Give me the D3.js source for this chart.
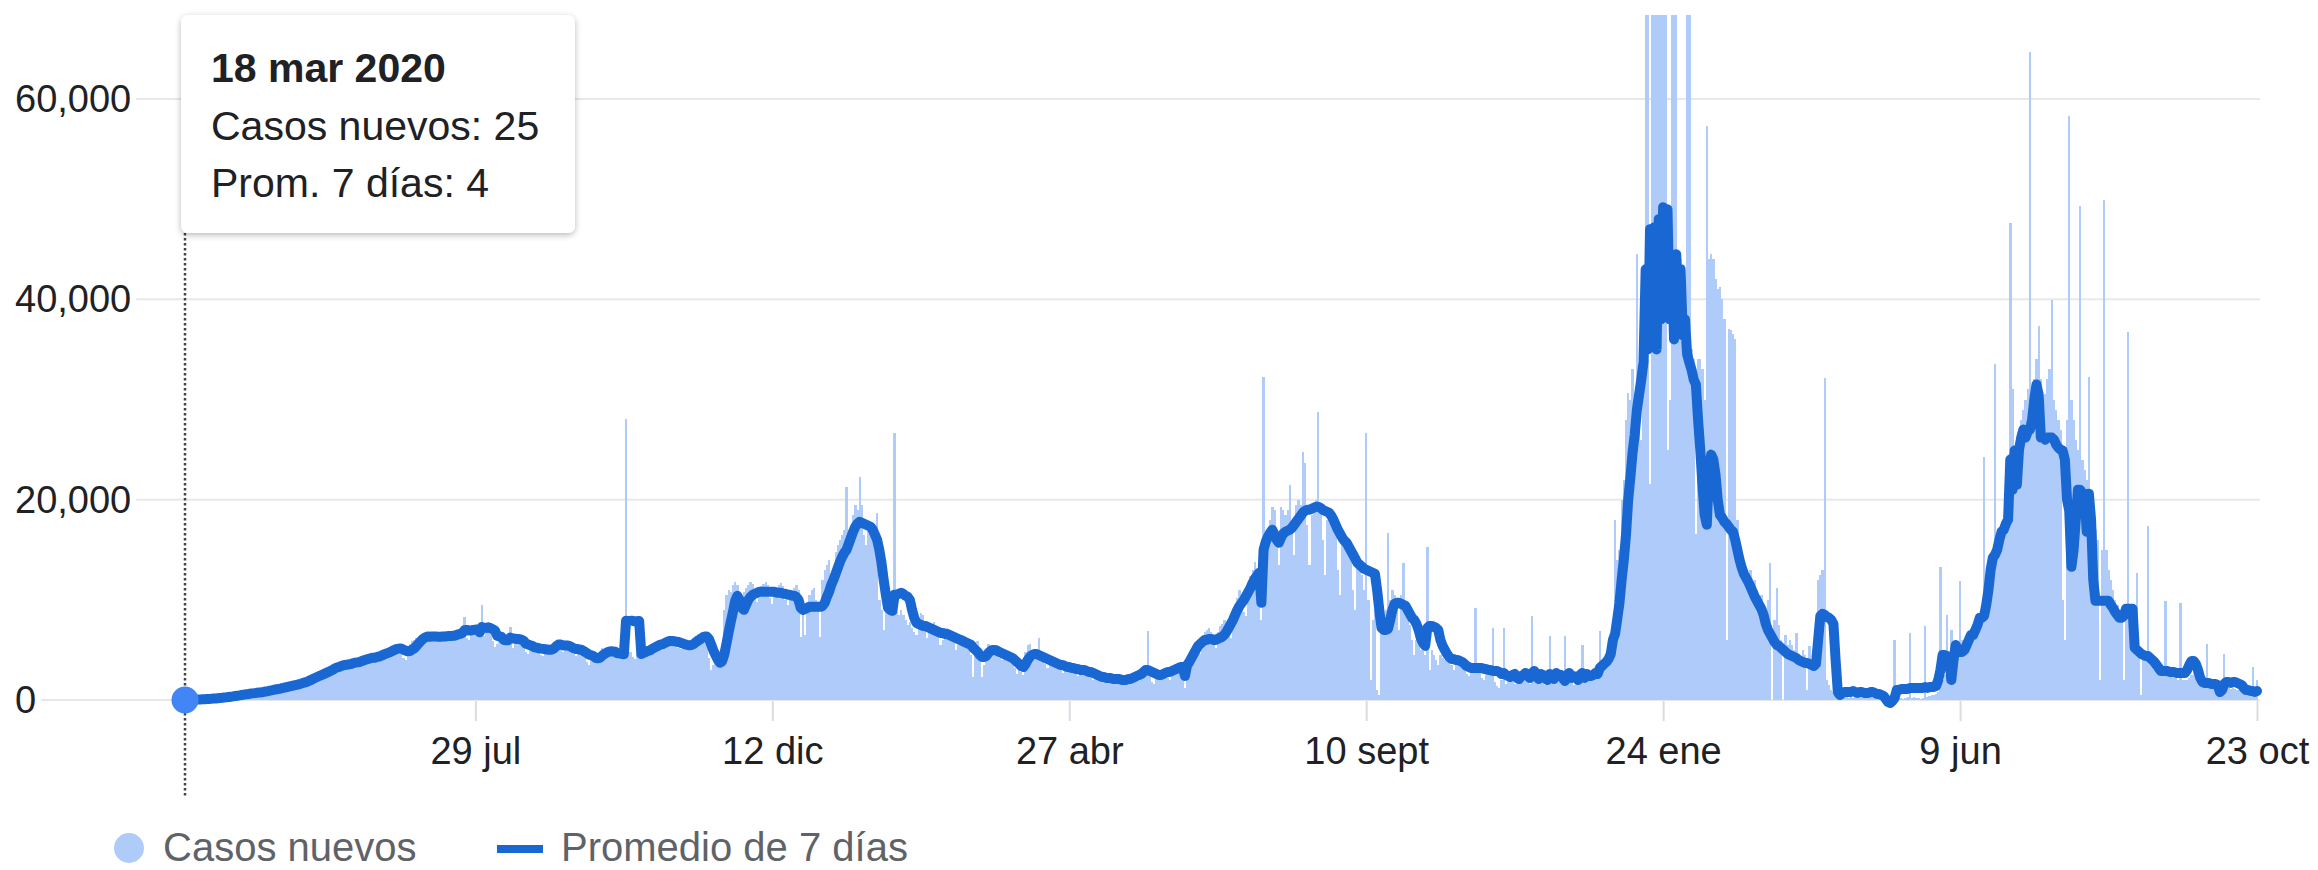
<!DOCTYPE html>
<html><head><meta charset="utf-8">
<script src="https://cdn.jsdelivr.net/npm/d3@7"></script>
<style>
html,body{margin:0;padding:0;background:#fff;}
svg{display:block;font-family:Arial,"Liberation Sans",Helvetica,sans-serif;}
</style>
</head><body>
<svg id="chart" width="2318" height="870"></svg>
<script>
// ---------- DATA ----------
const fechaInicio = new Date(2020, 2, 18);
const fechaFin = new Date(2022, 9, 23);
const mesesCortos = ["ene","feb","mar","abr","may","jun","jul","ago","sept","oct","nov","dic"];
const xTickFechas = [new Date(2020,6,29), new Date(2020,11,12), new Date(2021,3,27), new Date(2021,8,10), new Date(2022,0,24), new Date(2022,5,9), new Date(2022,9,23)];
const xTickEtiquetas = ["29 jul","12 dic","27 abr","10 sept","24 ene","9 jun","23 oct"];
const yTicks = [0, 20000, 40000, 60000];
const serieNombres = ["Casos nuevos", "Promedio de 7 días"];
const unidad = 100; // values below are in hundreds of cases, one per day from 18 mar 2020

// daily new cases (hundreds), one row per week
const casosNuevos = [
0.25,0.3,0.4,0.5,0.6,0.7,0.8,
0.9,1,1.2,1.3,1.5,1.7,2,
2.2,2.5,2.8,3,3.2,3.5,3.8,
4,4.5,4.8,5,5.5,6,6.2,
6.5,6.8,7,7.5,7.8,8,8.5,
9,9.5,10,10.5,11,11.2,11.5,
12,12.5,13,13.5,14,14.5,15,
15.5,16,17,17.5,18,19,20,
22,23,24,25,26,26,27,
28,29,30,31,32,33,34,
33,35,36,35,34,37,38,
39,40,38,37,41,42,43,
44,45,42,40,46,47,48,
50,51,48,46,53,54,55,
56,52,42,40,48,56,59,
60,62,60,58,64,66,68,
66,64,60,59,63,65,67,
68,66,62,59,65,68,70,
71,72,83,62,60,69,73,
74,72,65,95,64,68,70,
66,59,53,56,60,64,63,
62,60,73,52,58,61,60,
58,54,48,46,52,55,56,
53,50,45,44,50,52,53,
55,58,59,56,50,48,54,
56,55,52,46,44,49,51,
49,46,38,35,40,43,44,
46,48,52,45,49,50,51,
48,46,42,44,46,47,281,
45,48,43,41,46,49,50,
52,54,50,48,55,57,58,
60,59,55,56,61,62,60,
58,56,52,51,56,57,56,
55,57,59,64,66,65,68,
62,56,42,30,35,40,42,
36,45,90,105,110,108,115,
118,115,102,94,108,112,115,
118,116,104,98,110,114,116,
118,115,102,96,110,113,115,
117,114,100,95,106,110,112,
115,110,63,90,65,98,105,
110,112,100,96,63,120,130,
135,140,125,128,148,155,160,
165,170,213,165,155,185,195,
190,223,195,165,155,170,175,
165,150,187,100,90,70,95,
90,85,95,267,88,85,90,
85,80,75,78,72,68,65,
78,87,85,70,62,75,76,
78,74,65,55,60,70,72,
70,66,58,50,55,64,65,
64,60,52,45,23,58,59,
50,23,35,44,56,54,52,
50,49,42,40,46,47,45,
42,40,32,26,30,28,25,
48,55,56,47,40,50,62,
48,45,36,32,38,40,39,
38,36,30,27,33,35,34,
35,33,26,24,30,32,31,
30,29,23,20,26,28,27,
26,25,20,18,23,25,24,
24,23,18,16,21,23,22,
26,25,20,19,26,28,30,
69,26,18,16,24,26,28,
30,28,22,20,29,32,34,
36,34,26,12,38,42,45,
54,56,48,46,62,68,70,
72,68,58,52,68,74,76,
80,78,66,62,86,96,102,
110,106,88,84,116,124,130,
138,130,110,80,322,150,160,
180,193,190,165,135,193,190,
185,190,215,170,145,195,200,
195,248,237,175,135,185,195,
200,288,195,160,125,180,190,
180,175,165,130,105,155,160,
155,150,140,110,90,135,138,
125,110,267,100,20,80,90,
10,5,100,80,90,167,100,
110,105,90,70,105,137,95,
80,75,60,45,60,55,50,
50,45,153,30,50,45,40,
35,45,42,40,45,42,35,
30,38,40,38,36,34,26,
24,30,31,92,30,28,22,
20,26,27,26,72,18,14,
12,20,72,16,24,22,18,
16,23,25,24,25,23,18,
16,84,24,23,24,22,18,
15,24,64,25,24,22,18,
16,24,64,24,23,18,15,
24,25,22,55,18,24,20,
23,28,30,32,69,35,36,
38,45,55,70,180,140,150,
200,220,280,306,300,330,290,
445,300,260,380,720,720,216,
760,740,800,780,790,790,810,
250,300,760,780,750,430,440,
420,380,720,740,350,340,166,
340,340,330,300,573,440,445,
440,420,410,412,400,380,60,
370,369,365,360,180,150,130,
120,125,110,130,115,120,110,
100,105,95,90,100,137,0,
80,112,75,60,0,65,55,
60,55,50,67,45,40,50,
45,10,54,40,35,30,120,
125,130,321,20,15,10,8,
5,3,3,4,3,3,2,
3,2,3,2,3,2,2,
3,2,3,2,2,3,2,
2,2,1,0,1,2,60,
2,3,2,1,2,3,67,
2,3,2,2,1,2,74,
3,4,5,5,6,8,133,
20,25,85,30,70,40,45,
50,119,60,55,50,60,65,
70,75,80,85,90,243,100,
110,120,130,335,160,165,170,
180,190,200,476,310,240,250,
270,280,290,300,310,647,300,
320,340,373,320,300,305,320,
330,399,300,290,280,270,100,
60,280,583,300,280,260,250,
493,240,230,220,322,200,180,
170,160,20,150,499,150,130,
120,110,100,95,90,85,20,
90,367,80,60,50,127,50,
5,45,40,174,38,35,30,
30,28,26,25,99,25,24,
24,22,22,20,97,20,20,
20,22,25,30,25,20,15,
15,14,56,14,13,12,12,
12,10,8,46,12,12,11,
12,11,10,10,15,10,9,
8,9,33,8,20
];

// 7-day average (hundreds), one row per week
const promedio7Dias = [
0.04,0.08,0.14,0.21,0.29,0.39,0.51,
0.6,0.7,0.8,1,1.1,1.2,1.4,
1.6,1.8,2,2.2,2.5,2.7,3,
3.3,3.6,4,4.3,4.6,5,5.4,
5.7,6,6.4,6.6,6.9,7.2,7.4,
7.7,8,8.5,8.9,9.4,9.8,10.3,
10.7,11.1,11.5,12,12.5,13,13.5,
14,14.5,15,15.6,16.2,16.9,17.6,
18.3,19.3,20.3,21.4,22.4,23.4,24.4,
25.3,26.3,27.3,28.3,29.4,30.6,31.9,
32.6,33.4,34.3,34.9,35.1,35.6,35.8,
36.7,37.3,37.6,37.9,38.9,39.7,40.4,
41,41.7,42.3,42.3,43,43.4,44.3,
45.3,46.2,47,47.9,49,50,51,
51.3,51.4,50.3,49.4,48.6,48.9,50.4,
51.6,53.9,56.4,58.9,61,62.4,63.4,
63.1,63.4,63.3,63.4,63.2,63.1,63.4,
63.4,63.7,64,64,64.1,64.6,65.4,
65.9,66.9,69.6,70,69.3,69.4,70,
70.3,70.3,67.6,72.7,72.1,72,72.6,
71.7,70.7,69.3,64.1,63.6,63,60.1,
59.6,59.6,62.4,61.4,61.3,60.9,60.9,
60.3,59.4,56.4,55.6,54.7,54.1,52.7,
52.3,51.7,51.3,51,50.7,50.4,50.1,
50.4,51.6,53.6,55.3,55.3,54.6,54.3,
54.4,54,52.9,51.6,50.9,50.9,50.4,
49.6,48.3,47,45.4,44.7,44,42.1,
41.7,42.1,44.1,45.9,47.1,48.1,48.7,
48.4,48.1,46.7,46.6,46.1,45.6,79.1,
78.7,79,79.1,78.6,78.6,78.9,46,
47,47.9,48.9,49.6,51.1,52.3,53.4,
54.6,55.3,56,57.1,58.1,58.9,59,
58.7,58.3,57.9,57.1,56.4,55.7,55.1,
54.7,54.9,55.9,57.7,59.4,60.6,62.3,
63.3,63.3,60.9,55.3,49.4,44.7,40.4,
37.3,38.6,45.4,56.3,67.9,78.3,88.4,
99,104,100,92,90,95,100,
103,105,106,107,108,108,108,
108,108,108,108,108,107,107,
107,106,106,105,105,104,104,
103,100,92,90,91,92,93,
93,93,93,93,93,94,97,
103,108,115,120,126,132,138,
143,147,150,156,162,168,173,
176,178,177,176,175,174,173,
170,165,160,150,137,120,105,
92,90,89,105,105,106,107,
106,104,103,100,90,82,77,
76,75,74,74,73,72,71,
70,69,68,67,67,66,66,
65,64,63,62,61,60,59,
58,57,56,55,52,50,48,
45,43,43,44,47,49,50,
50,49,48,47,46,45,44,
43,42,40,38,36,34,33,
36,40,43,45,46,46,45,
44,43,42,41,40,39,38,
37,36,35,35,34,33,33,
32,32,31,31,30,30,30,
29,28,28,27,26,25,24,
23,23,22,22,22,21,21,
21,21,20,20,20,21,21,
22,23,24,25,26,28,30,
30,29,28,27,26,25,25,
26,27,28,28,29,30,31,
32,33,33,24,35,38,42,
46,50,54,56,58,60,60,
61,61,60,60,61,62,63,
65,68,72,76,80,85,90,
94,97,100,104,108,112,117,
121,124,127,97,150,158,163,
167,170,165,160,157,162,166,
168,169,170,172,175,178,181,
184,187,189,190,190,191,192,
193,193,192,190,189,188,187,
184,180,175,170,166,162,159,
157,153,149,145,141,137,135,
133,131,130,129,128,127,126,
110,90,72,70,70,71,80,
90,96,97,97,96,95,94,
90,86,82,80,76,70,62,
57,54,72,74,74,73,72,
70,60,54,50,46,43,41,
41,40,40,39,38,36,34,
33,32,32,32,32,32,32,
31,31,30,30,29,29,29,
28,26,27,25,24,23,25,
26,22,21,24,25,27,24,
22,27,29,24,21,26,25,
22,20,26,23,21,27,24,
25,22,19,25,27,22,24,
23,20,25,27,22,26,24,
24,25,27,26,32,34,36,
38,41,46,60,66,81,97,
120,140,165,200,222,247,265,
290,305,320,337,430,350,470,
360,472,350,480,380,492,400,
490,380,433,360,445,373,430,
364,380,345,337,330,320,315,
280,250,215,185,175,230,245,
240,225,200,185,182,178,176,
173,170,168,160,150,140,132,
126,122,118,113,108,103,99,
95,91,85,76,70,66,62,
58,55,54,52,50,48,46,
45,44,43,42,40,39,38,
37,37,36,35,34,36,60,
84,86,85,83,82,80,76,
40,8,5,7,8,8,8,
8,9,8,7,8,8,7,
7,7,8,8,7,6,6,
5,4,1,-2,-3,-1,2,
10,10,11,11,11,11,12,
12,12,12,12,12,12,13,
12,13,13,13,14,20,30,
45,45,44,42,20,40,55,
50,48,48,50,55,60,65,
65,70,75,82,82,84,95,
110,130,142,145,150,160,168,
170,176,180,240,210,249,215,
250,262,270,262,268,270,280,
300,315,305,262,262,260,262,
262,262,260,255,252,250,249,
240,200,189,133,150,180,210,
210,206,206,168,206,180,120,
99,99,99,99,99,99,99,
95,92,88,85,82,82,84,
91,91,91,91,52,50,48,
46,45,44,44,42,40,38,
35,32,29,29,29,29,28,
28,28,27,27,27,27,27,
30,35,39,39,36,30,22,
18,17,17,17,16,16,16,
15,8,10,16,18,18,17,
18,18,17,16,15,12,10,
10,9,9,8,9
];

// ---------- CHART ----------
const W = 2318, H = 870;
const svg = d3.select("#chart");
svg.append("rect").attr("width", W).attr("height", H).attr("fill", "#fff");

const x = d3.scaleTime().domain([fechaInicio, fechaFin]).range([185, 2257]);
const y = d3.scaleLinear().domain([0, 60000]).range([700, 99]);
const plotRight = 2260, plotTop = 15;

const dias = casosNuevos.map((v, i) => ({
  fecha: d3.timeDay.offset(fechaInicio, i),
  casos: v * unidad,
  prom: (promedio7Dias[i] ?? 0) * unidad
}));

const defs = svg.append("defs");
defs.append("clipPath").attr("id", "clip")
  .append("rect").attr("x", 0).attr("y", plotTop).attr("width", W).attr("height", 720 - plotTop);
const f = defs.append("filter").attr("id", "sombra")
  .attr("x", "-10%").attr("y", "-10%").attr("width", "120%").attr("height", "130%");
f.append("feDropShadow").attr("dx", 0).attr("dy", 2).attr("stdDeviation", 3)
  .attr("flood-color", "#000").attr("flood-opacity", 0.28);

const fontAxis = 38;
// y gridlines + labels
const gGrid = svg.append("g");
yTicks.forEach(t => {
  const txt = gGrid.append("text")
    .attr("x", 15).attr("y", y(t) + 13)
    .attr("font-size", fontAxis).attr("fill", "#202124")
    .text(d3.format(",")(t));
  const w = txt.node().getComputedTextLength();
  gGrid.append("line")
    .attr("x1", 15 + w + 5).attr("x2", plotRight)
    .attr("y1", y(t)).attr("y2", y(t))
    .attr("stroke", "#e8e8e8").attr("stroke-width", 2);
});

// bars
const bw = x(d3.timeDay.offset(fechaInicio, 1)) - x(fechaInicio);
svg.append("g").attr("clip-path", "url(#clip)")
  .attr("shape-rendering", "crispEdges")
  .selectAll("rect").data(dias).join("rect")
  .attr("x", d => x(d.fecha) - bw / 2)
  .attr("width", bw + 0.15)
  .attr("y", d => y(Math.max(0, d.casos)))
  .attr("height", d => Math.max(0, y(0) - y(Math.max(0, d.casos))))
  .attr("fill", "#aecbfa");

// x axis ticks
const xAxis = d3.axisBottom(x).tickValues(xTickFechas)
  .tickFormat((d, i) => xTickEtiquetas[i]).tickSize(20).tickPadding(16);
const gx = svg.append("g").attr("transform", "translate(0,701)").call(xAxis);
gx.select(".domain").remove();
gx.selectAll(".tick line").attr("stroke", "#dadce0").attr("stroke-width", 2);
gx.selectAll(".tick text").attr("font-size", fontAxis).attr("fill", "#202124")
  .attr("font-family", "Arial, 'Liberation Sans', Helvetica, sans-serif");

// 7-day average line
const linea = d3.line().x(d => x(d.fecha)).y(d => y(d.prom));
svg.append("path").datum(dias)
  .attr("d", linea).attr("fill", "none")
  .attr("stroke", "#1967d2").attr("stroke-width", 10)
  .attr("stroke-linejoin", "round").attr("stroke-linecap", "round");

// hover indicator
const d0 = dias[0];
svg.append("line")
  .attr("x1", x(d0.fecha)).attr("x2", x(d0.fecha))
  .attr("y1", 233).attr("y2", 797)
  .attr("stroke", "#444").attr("stroke-width", 2.5)
  .attr("stroke-dasharray", "2.5,2.5");
svg.append("circle").attr("cx", x(d0.fecha)).attr("cy", y(0))
  .attr("r", 13.5).attr("fill", "#4285f4");

// tooltip
const tip = svg.append("g");
tip.append("rect").attr("x", 181).attr("y", 15).attr("width", 394).attr("height", 218)
  .attr("rx", 7).attr("fill", "#fff").attr("filter", "url(#sombra)");
const fechaTxt = `${d0.fecha.getDate()} ${mesesCortos[d0.fecha.getMonth()]} ${d0.fecha.getFullYear()}`;
tip.append("text").attr("x", 211).attr("y", 82).attr("font-size", 41)
  .attr("font-weight", "bold").attr("fill", "#202124").text(fechaTxt);
tip.append("text").attr("x", 211).attr("y", 140).attr("font-size", 41)
  .attr("fill", "#202124").text(`${serieNombres[0]}: ${d3.format(",")(Math.round(d0.casos))}`);
tip.append("text").attr("x", 211).attr("y", 197).attr("font-size", 41)
  .attr("fill", "#202124").text(`Prom. 7 días: ${d3.format(",")(Math.round(d0.prom))}`);

// legend
const leg = svg.append("g");
leg.append("circle").attr("cx", 129).attr("cy", 848).attr("r", 15).attr("fill", "#aecbfa");
leg.append("text").attr("x", 163).attr("y", 861).attr("font-size", 40).attr("fill", "#5f6368").text(serieNombres[0]);
leg.append("line").attr("x1", 497).attr("x2", 543).attr("y1", 849).attr("y2", 849)
  .attr("stroke", "#1967d2").attr("stroke-width", 8);
leg.append("text").attr("x", 561).attr("y", 861).attr("font-size", 40).attr("fill", "#5f6368").text(serieNombres[1]);
</script>
</body></html>
